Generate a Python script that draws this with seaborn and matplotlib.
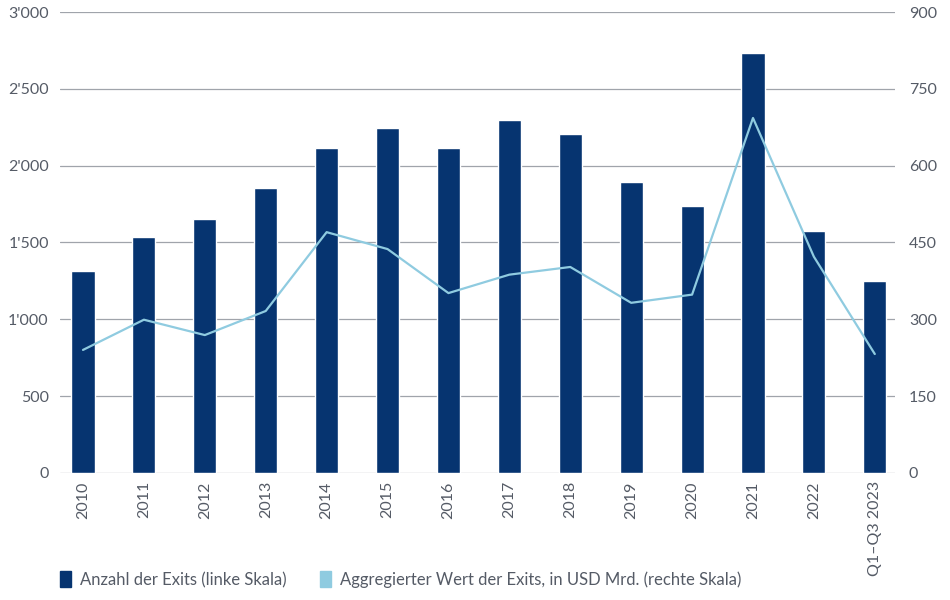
import numpy as np
import matplotlib
matplotlib.use("Agg")
import matplotlib.pyplot as plt
from matplotlib.patches import Patch
from matplotlib.ticker import FuncFormatter
import seaborn as sns

years = ["2010", "2011", "2012", "2013", "2014", "2015", "2016", "2017",
         "2018", "2019", "2020", "2021", "2022", "Q1\u2013Q3 2023"]
exits_count = [1315, 1535, 1655, 1855, 2115, 2245, 2115, 2297,
               2205, 1893, 1737, 2733, 1575, 1250]
exits_value = [240, 299, 269, 316, 470, 437, 351, 387,
               402, 332, 348, 693, 422, 232]

NAVY = "#063470"
LIGHT = "#8fcbe0"
TEXT = "#555b66"
GRID = "#a0a4ab"

sns.set_theme(style="white")
plt.rcParams["font.family"] = ["Lato", "DejaVu Sans"]

fig = plt.figure(figsize=(9.5, 6), dpi=100)
ax = fig.add_axes([0.063, 0.212, 0.879, 0.768])
ax2 = ax.twinx()

sns.barplot(x=years, y=exits_count, ax=ax, color=NAVY, width=0.38,
            saturation=1, zorder=3)
sns.lineplot(x=np.arange(len(years)), y=exits_value, ax=ax2, color=LIGHT,
             linewidth=1.6, zorder=4)

ax.set_ylim(0, 3000)
ax2.set_ylim(0, 900)
ax.set_xlim(-0.38, 13.33)
ax.set_yticks(np.arange(0, 3001, 500))
ax2.set_yticks(np.arange(0, 901, 150))

def swiss(v, pos):
    return f"{int(v):,}".replace(",", "'")

ax.yaxis.set_major_formatter(FuncFormatter(swiss))
ax.grid(axis="y", color=GRID, linewidth=0.9, zorder=0)
ax.set_axisbelow(True)
ax2.grid(False)

for a in (ax, ax2):
    for s in a.spines.values():
        s.set_visible(False)
    a.tick_params(axis="both", length=0, labelsize=11.5, colors=TEXT)
    a.set_xlabel("")
    a.set_ylabel("")

ax.tick_params(axis="y", pad=8)
ax2.tick_params(axis="y", pad=10)
ax.tick_params(axis="x", pad=6)
plt.setp(ax.get_xticklabels(), rotation=90)

# keep the bars above the twin axis background
ax.set_zorder(ax2.get_zorder() - 1)
ax2.patch.set_visible(False)
ax.patch.set_visible(True)

handles = [Patch(facecolor=NAVY, edgecolor=NAVY),
           Patch(facecolor=LIGHT, edgecolor=LIGHT)]
labels = ["Anzahl der Exits (linke Skala)",
          "Aggregierter Wert der Exits, in USD Mrd. (rechte Skala)"]
leg = fig.legend(handles, labels, loc="lower left", bbox_to_anchor=(0.047, -0.005),
                 ncol=2, frameon=False, fontsize=12, handlelength=0.7,
                 handleheight=1.1, handletextpad=0.5, columnspacing=2.0)
for t in leg.get_texts():
    t.set_color(TEXT)

fig.savefig("out.png", dpi=100)
